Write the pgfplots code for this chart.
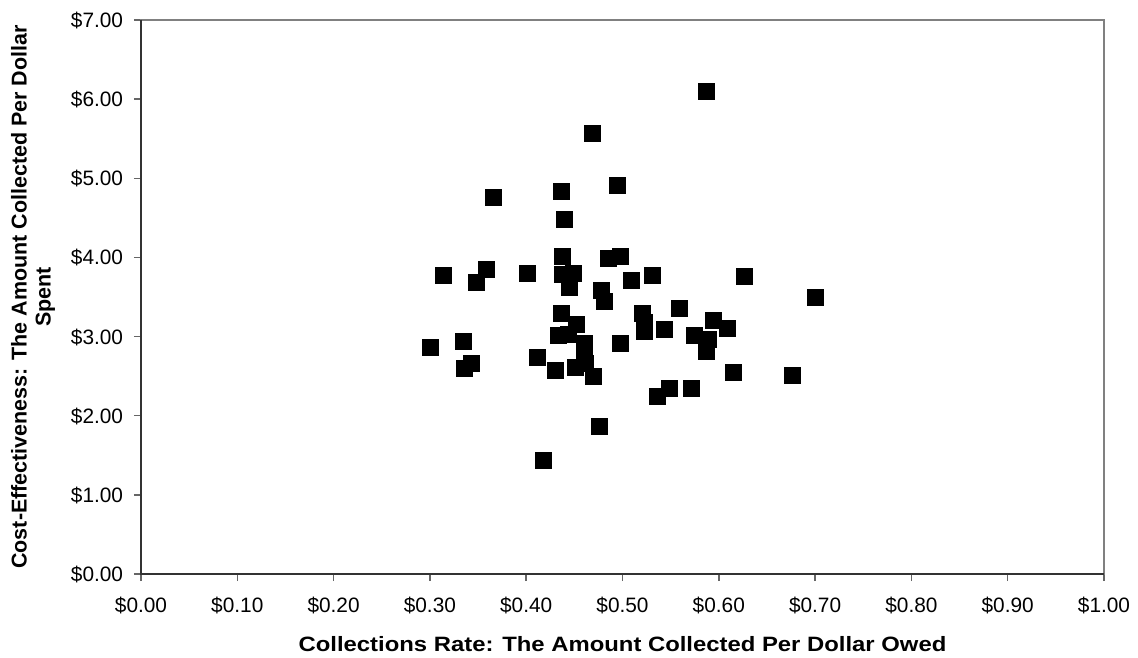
\documentclass[border=0pt]{standalone}
\usepackage{pgfplots}
\pgfplotsset{compat=1.18}
\usepackage{fontspec}
\setmainfont{Liberation Sans}
\begin{document}
\begin{tikzpicture}
\useasboundingbox (-67.68pt,-40.32pt) rectangle (478.56pt,275.52pt);
\begin{axis}[
  at={(0pt,0pt)}, anchor=south west,
  scale only axis, width=462.24pt, height=265.92pt,
  xmin=0, xmax=1, ymin=0, ymax=7,
  xtick={0,0.1,0.2,0.3,0.4,0.5,0.6,0.7,0.8,0.9,1},
  ytick={0,1,2,3,4,5,6,7},
  xtick pos=bottom, ytick pos=left,
  tick align=outside, major tick length=3.4pt,
  minor tick num=0,
  axis line style={draw=black!50, line width=0.8pt},
  every tick/.style={draw=black!60, line width=0.7pt},
  /pgf/number format/assume math mode=true,
  xticklabel={\$\pgfmathprintnumber[fixed,fixed zerofill,precision=2]{\tick}},
  yticklabel={\$\pgfmathprintnumber[fixed,fixed zerofill,precision=2]{\tick}},
  tick label style={font=\fontsize{10}{12}\selectfont},
  xticklabel style={anchor=base, inner sep=0pt, yshift=-15pt},
  yticklabel style={anchor=base east, inner sep=0pt, xshift=-5pt, yshift=-3.6pt},
  xlabel={\scalebox{1}[0.87]{Collections Rate: The Amount Collected Per Dollar Owed}},
  ylabel={Cost-Effectiveness: The Amount Collected Per Dollar\\Spent},
  xlabel style={font=\fontsize{11.45}{12}\selectfont\bfseries, at={(axis description cs:0.5,-0.1408)}, anchor=base, inner sep=0pt},
  ylabel style={font=\fontsize{10.3}{11.5}\selectfont\bfseries, align=center, at={(axis description cs:-0.1121,0.5)}, anchor=center},
  clip=false,
]
\addplot[only marks, mark=square*, mark size=3.84pt, mark options={fill=black, draw=black, line width=0.3pt}] coordinates {
(0.587,6.10) (0.469,5.57) (0.3655,4.755) (0.436,4.84) (0.4945,4.91) (0.440,4.48)
(0.437,4.01) (0.485,3.99) (0.498,4.01)
(0.3136,3.77) (0.3586,3.85) (0.348,3.69) (0.4008,3.80) (0.4375,3.79) (0.4488,3.80)
(0.4448,3.62) (0.509,3.71) (0.531,3.77) (0.627,3.76) (0.478,3.59) (0.481,3.44)
(0.4365,3.29) (0.452,3.16) (0.521,3.29) (0.523,3.18) (0.523,3.07) (0.5587,3.36)
(0.5437,3.09) (0.433,3.02) (0.4437,3.03) (0.460,2.91) (0.460,2.83) (0.4974,2.92)
(0.3008,2.865) (0.335,2.935) (0.3427,2.66) (0.3354,2.60) (0.4115,2.74) (0.4305,2.57)
(0.451,2.61) (0.4617,2.66) (0.4696,2.50) (0.5486,2.35) (0.536,2.25) (0.5717,2.34)
(0.5946,3.20) (0.6085,3.10) (0.5746,3.02) (0.589,2.97) (0.587,2.81) (0.6147,2.55)
(0.476,1.86) (0.4174,1.44) (0.700,3.50) (0.6766,2.51)
};
\draw[black!80, line width=0.8pt] (rel axis cs:0,1) -- (rel axis cs:0,0) -- (rel axis cs:1,0);
\end{axis}
\end{tikzpicture}
\end{document}
